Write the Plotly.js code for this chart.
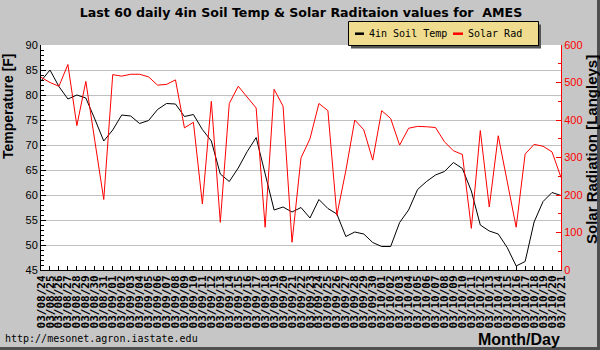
<!DOCTYPE html>
<html><head><meta charset="utf-8">
<script src="https://cdn.plot.ly/plotly-3.0.1.min.js"></script>
<style>html,body{margin:0;padding:0;background:#c6c6c6;}#chart{width:600px;height:350px;}</style>
</head><body><div id="chart"></div>
<script>
const dates = ["03/08/24","03/08/25","03/08/26","03/08/27","03/08/28","03/08/29","03/08/30","03/08/31",
"03/09/01","03/09/02","03/09/03","03/09/04","03/09/05","03/09/06","03/09/07","03/09/08","03/09/09","03/09/10",
"03/09/11","03/09/12","03/09/13","03/09/14","03/09/15","03/09/16","03/09/17","03/09/18","03/09/19","03/09/20",
"03/09/21","03/09/22","03/09/23","03/09/24","03/09/25","03/09/26","03/09/27","03/09/28","03/09/29","03/09/30",
"03/10/01","03/10/02","03/10/03","03/10/04","03/10/05","03/10/06","03/10/07","03/10/08","03/10/09","03/10/10",
"03/10/11","03/10/12","03/10/13","03/10/14","03/10/15","03/10/16","03/10/17","03/10/18","03/10/19","03/10/20","03/10/21"];
const soilTemp = [82.8,85.0,81.7,79.2,80.0,79.4,75.2,70.8,73.0,76.0,
75.8,74.3,74.9,77.1,78.3,78.2,75.7,76.1,73.1,70.8,
64.2,62.7,65.4,68.7,71.5,64.5,57.0,57.6,56.6,57.5,
55.4,59.1,57.3,56.2,51.7,52.6,52.2,50.5,49.7,49.7,
54.5,57.0,61.1,62.7,64.0,64.7,66.5,65.3,60.8,54.0,
52.8,52.2,49.5,45.8,46.7,54.6,58.7,60.5,59.9];
const solarRad = [514,500,490,548,385,503,345,188,521,517,
522,522,515,493,495,507,379,394,176,450,
127,444,490,461,432,114,482,437,74,299,
350,444,425,146,265,400,374,293,425,404,
333,378,383,382,380,342,318,308,111,372,
168,358,234,114,309,335,330,315,247];
const tempTicks = [45,50,55,60,65,70,75,80,85,90];
const radTicks = [0,100,200,300,400,500,600];
const seriesNames = ["4in Soil Temp","Solar Rad"];
const titleText = "Last 60 daily 4in Soil Temp & Solar Raditaion values for  AMES";

const W=600,H=350,L=41,R=39,T=45,B=80,PW=W-L-R,PH=H-T-B;
const px = x => (x-L)/PW;
const py = y => (H-B-y)/PH;

const traces = [
  {x:dates, y:soilTemp, name:seriesNames[0], type:'scatter', mode:'lines', line:{color:'#000000', width:1}, yaxis:'y'},
  {x:dates, y:solarRad, name:seriesNames[1], type:'scatter', mode:'lines', line:{color:'#ff0000', width:1}, yaxis:'y2'}
];

const layout = {
  width:W, height:H, margin:{l:L,r:R,t:T,b:B,pad:0},
  paper_bgcolor:'#c6c6c6', plot_bgcolor:'#ffffff',
  showlegend:false,
  font:{family:'Liberation Sans', size:11, color:'#000'},
  title:{text:titleText, font:{family:'DejaVu Sans', size:12.6, weight:'bold', color:'#000'},
         xref:'paper', x:px(301), xanchor:'center', yref:'container', y:1-12.5/H, yanchor:'middle'},
  xaxis:{type:'category', categoryorder:'array', categoryarray:dates, range:[0,dates.length-1],
         tickmode:'array', tickvals:dates, ticktext:dates, tickangle:-90,
         ticks:'inside', ticklen:4, tickcolor:'#000', showline:true, linecolor:'#000', linewidth:1,
         showgrid:false, zeroline:false,
         tickfont:{family:'DejaVu Sans Mono', size:11, weight:'bold', color:'#000'}},
  yaxis:{range:[45,90], tickmode:'array', tickvals:tempTicks, ticks:'inside', ticklen:5, tickcolor:'#000',
         minor:{dtick:1, tick0:45, ticks:'inside', ticklen:3, tickcolor:'#000', showgrid:false},
         showline:true, linecolor:'#000', linewidth:1, showgrid:true, gridcolor:'#c0c0c0', gridwidth:1,
         zeroline:false, tickfont:{family:'Liberation Sans', size:11, color:'#000'}},
  yaxis2:{overlaying:'y', side:'right', range:[0,600], tickmode:'array', tickvals:radTicks,
         ticks:'inside', ticklen:5, tickcolor:'#ff0000',
         minor:{dtick:50, tick0:0, ticks:'inside', ticklen:3, tickcolor:'#ff0000', showgrid:false},
         showline:true, linecolor:'#ff0000', linewidth:1, showgrid:false, zeroline:false,
         tickfont:{family:'Liberation Sans', size:11, color:'#ff0000'}},
  shapes:[
    {type:'rect', xref:'paper', yref:'paper', x0:px(597), x1:px(600), y0:py(350), y1:py(0), fillcolor:'#505050', line:{width:0}, layer:'above'},
    {type:'rect', xref:'paper', yref:'paper', x0:px(0), x1:px(600), y0:py(350), y1:py(347), fillcolor:'#505050', line:{width:0}, layer:'above'},
    {type:'rect', xref:'paper', yref:'paper', x0:px(351), x1:px(541), y0:py(48.5), y1:py(24.5), fillcolor:'#555555', line:{width:0}, layer:'above'},
    {type:'rect', xref:'paper', yref:'paper', x0:px(348.5), x1:px(538.5), y0:py(45.5), y1:py(21.5), fillcolor:'#f0dc8e', line:{color:'#000', width:1}, layer:'above'},
    {type:'line', xref:'paper', yref:'paper', x0:px(355), x1:px(364), y0:py(33.7), y1:py(33.7), line:{color:'#000', width:2.5}, layer:'above'},
    {type:'line', xref:'paper', yref:'paper', x0:px(453), x1:px(463), y0:py(33.7), y1:py(33.7), line:{color:'#ff0000', width:2.5}, layer:'above'}
  ],
  annotations:[
    {text:seriesNames[0], xref:'paper', yref:'paper', x:px(367), y:py(33.7), xanchor:'left', yanchor:'middle', showarrow:false,
     font:{family:'DejaVu Sans Mono', size:10, color:'#000'}},
    {text:seriesNames[1], xref:'paper', yref:'paper', x:px(466), y:py(33.7), xanchor:'left', yanchor:'middle', showarrow:false,
     font:{family:'DejaVu Sans Mono', size:10, color:'#000'}},
    {text:'Temperature [F]', xref:'paper', yref:'paper', x:px(8), y:py(106), xanchor:'center', yanchor:'middle', textangle:-90, showarrow:false,
     font:{family:'Liberation Sans', size:14, weight:'bold', color:'#000'}},
    {text:'Solar Radiation [Langleys]', xref:'paper', yref:'paper', x:px(591), y:py(150), xanchor:'center', yanchor:'middle', textangle:-90, showarrow:false,
     font:{family:'Liberation Sans', size:15, weight:'bold', color:'#000'}},
    {text:'Month/Day', xref:'paper', yref:'paper', x:px(519), y:py(339), xanchor:'center', yanchor:'middle', showarrow:false,
     font:{family:'Liberation Sans', size:16, weight:'bold', color:'#000'}},
    {text:'http://mesonet.agron.iastate.edu', xref:'paper', yref:'paper', x:px(3), y:py(338), xanchor:'left', yanchor:'middle', showarrow:false,
     font:{family:'DejaVu Sans Mono', size:10, color:'#000'}}
  ]
};

Plotly.newPlot('chart', traces, layout, {displayModeBar:false, staticPlot:true});
</script>
</body></html>
